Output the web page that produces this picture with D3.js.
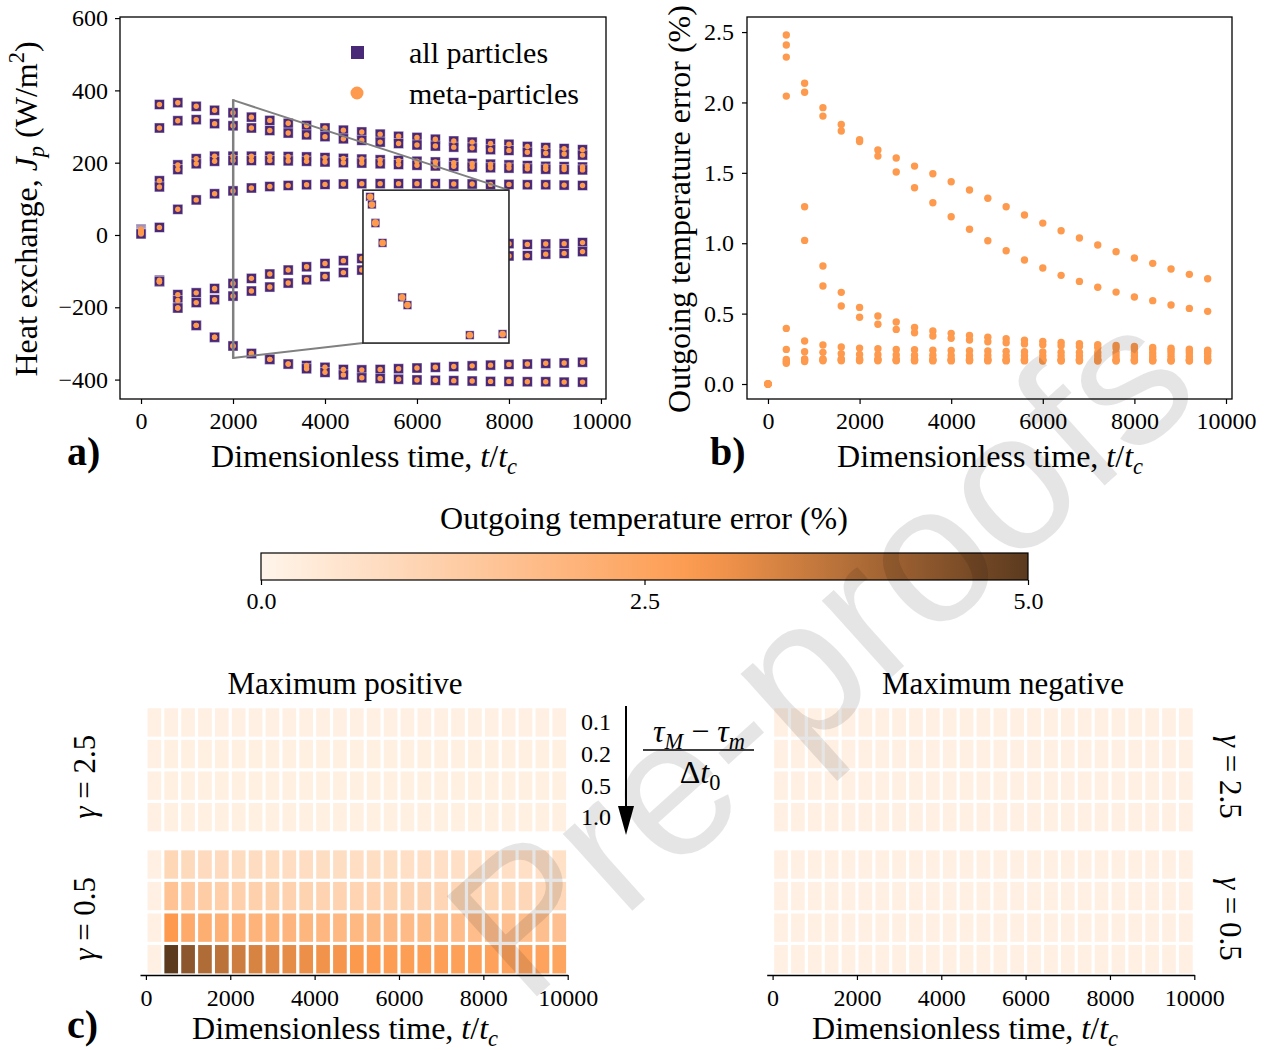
<!DOCTYPE html>
<html>
<head>
<meta charset="utf-8">
<script src="https://cdn.jsdelivr.net/npm/d3@7"></script>
<style>
  body { margin: 0; background: #fff; }
  text { font-family: "Liberation Serif", serif; fill: #000; }
</style>
</head>
<body>
<svg id="fig" width="1273" height="1050"></svg>
<script>
// ---- data ----
var times = [0, 400, 800, 1200, 1600, 2000, 2400, 2800, 3200, 3600, 4000, 4400, 4800,
             5200, 5600, 6000, 6400, 6800, 7200, 7600, 8000, 8400, 8800, 9200, 9600];

// a) heat exchange J_p (W/m2) of each particle
var jp1 = [16, 361, 366, 356, 345, 338, 326, 317, 309, 303, 296, 290, 285, 279, 273, 270, 265, 260, 257, 253, 251, 245, 242, 239, 236];
var jp2 = [14, 296, 316, 319, 308, 302, 296, 289, 282, 277, 272, 266, 262, 257, 253, 249, 246, 243, 241, 236, 234, 229, 226, 224, 221];
var jp3 = [12, 150, 194, 211, 218, 218, 218, 218, 217, 216, 214, 212, 210, 208, 206, 204, 202, 200, 198, 196, 194, 192, 190, 189, 188];
var jp4 = [10, 133, 181, 197, 204, 206, 206, 206, 205, 204, 202, 200, 199, 197, 195, 193, 191, 190, 188, 186, 185, 183, 182, 181, 180];
var jp5 = [8, 21, 71, 97, 114, 122, 130, 134, 137, 139, 140, 141, 142, 142, 142, 142, 142, 141, 141, 140, 140, 139, 139, 138, 137];
var jp6 = [6, -125, -165, -160, -148, -134, -120, -108, -97, -88, -79, -71, -65, -59, -53, -48, -43, -38, -33, -28, -24, -26, -25, -24, -21];
var jp7 = [5, -130, -181, -187, -179, -169, -155, -144, -133, -124, -115, -104, -97, -92, -87, -82, -77, -72, -67, -62, -58, -57, -53, -51, -46];
var jp8 = [4, -128, -202, -250, -283, -307, -328, -344, -357, -361, -366, -372, -373, -372, -370, -368, -366, -364, -362, -360, -358, -357, -355, -354, -352];
var jp9 = [3, -128, -202, -250, -283, -307, -328, -344, -357, -370, -380, -387, -395, -397, -399, -401, -402, -403, -404, -405, -405, -406, -406, -407, -407];
var allParticles = [jp1, jp2, jp3, jp4, jp5, jp6, jp7, jp8, jp9];
var metaParticles = [jp1, jp2, jp3, jp4, jp5, jp6, jp7, jp8, jp9];

// inset: zoom around t = 2000
var insetT = [1999.1, 1999.15, 1999.25, 1999.25, 1999.45, 2000.0, 2000.15, 2001.9, 2002.82];
var insetJ = [342, 306, 221, 219, 127, -127, -163, -303, -298];

// b) outgoing temperature error (%)
var err1 = [0, 2.479, 2.136, 1.963, 1.844, 1.735, 1.662, 1.605, 1.548, 1.494, 1.437, 1.378, 1.319, 1.259, 1.200, 1.143, 1.089, 1.037, 0.987, 0.940, 0.895, 0.857, 0.817, 0.779, 0.748];
var err2 = [0, 2.408, 2.072, 1.903, 1.797, 1.722, 1.619, 1.506, 1.394, 1.288, 1.188, 1.099, 1.018, 0.947, 0.881, 0.824, 0.772, 0.729, 0.687, 0.653, 0.618, 0.592, 0.561, 0.537, 0.516];
var err3 = [0, 2.322, 1.259, 0.838, 0.651, 0.544, 0.483, 0.440, 0.402, 0.376, 0.360, 0.345, 0.333, 0.322, 0.312, 0.303, 0.295, 0.287, 0.280, 0.273, 0.266, 0.260, 0.254, 0.248, 0.241];
var err4 = [0, 2.045, 1.020, 0.696, 0.554, 0.474, 0.424, 0.388, 0.364, 0.341, 0.325, 0.313, 0.300, 0.293, 0.285, 0.278, 0.272, 0.266, 0.260, 0.255, 0.250, 0.245, 0.240, 0.236, 0.232];
var err5 = [0, 0.395, 0.305, 0.277, 0.263, 0.255, 0.250, 0.246, 0.243, 0.240, 0.238, 0.236, 0.234, 0.232, 0.230, 0.228, 0.226, 0.225, 0.224, 0.223, 0.222, 0.221, 0.220, 0.220, 0.219];
var err6 = [0, 0.246, 0.229, 0.225, 0.215, 0.210, 0.208, 0.206, 0.205, 0.204, 0.203, 0.202, 0.202, 0.201, 0.201, 0.200, 0.200, 0.200, 0.199, 0.199, 0.199, 0.198, 0.198, 0.198, 0.197];
var err7 = [0, 0.175, 0.178, 0.178, 0.178, 0.177, 0.177, 0.177, 0.176, 0.176, 0.176, 0.176, 0.176, 0.175, 0.175, 0.175, 0.175, 0.175, 0.175, 0.174, 0.174, 0.174, 0.174, 0.174, 0.174];
var err8 = [0, 0.160, 0.170, 0.170, 0.170, 0.170, 0.170, 0.169, 0.169, 0.169, 0.169, 0.169, 0.169, 0.168, 0.168, 0.168, 0.168, 0.168, 0.168, 0.168, 0.168, 0.168, 0.167, 0.167, 0.167];
var err9 = [0, 0.147, 0.160, 0.165, 0.165, 0.165, 0.165, 0.165, 0.164, 0.164, 0.164, 0.164, 0.164, 0.164, 0.164, 0.163, 0.163, 0.163, 0.163, 0.163, 0.163, 0.163, 0.163, 0.163, 0.163];
var errSeries = [err1, err2, err3, err4, err5, err6, err7, err8, err9];

// c) error maps, rows = (tau_M - tau_m)/dt0
var tauLabels = ["0.1", "0.2", "0.5", "1.0"];
var gammaLabels = ["\u03b3 = 2.5", "\u03b3 = 0.5"];
var posG25 = [
  [0.15,0.15,0.15,0.15,0.15,0.15,0.15,0.15,0.15,0.15,0.15,0.15,0.15,0.15,0.15,0.15,0.15,0.15,0.15,0.15,0.15,0.15,0.15,0.15,0.15],
  [0.15,0.16,0.16,0.16,0.16,0.16,0.16,0.16,0.16,0.16,0.16,0.16,0.16,0.16,0.16,0.16,0.16,0.16,0.16,0.16,0.16,0.16,0.16,0.16,0.16],
  [0.15,0.16,0.16,0.16,0.16,0.16,0.16,0.16,0.16,0.16,0.16,0.16,0.16,0.16,0.16,0.16,0.16,0.16,0.16,0.16,0.16,0.16,0.16,0.16,0.16],
  [0.15,0.17,0.17,0.17,0.17,0.17,0.17,0.17,0.17,0.17,0.17,0.17,0.17,0.17,0.17,0.17,0.17,0.17,0.17,0.17,0.17,0.17,0.17,0.17,0.17]
];
var posG05 = [
  [0.15,0.95,0.85,0.82,0.80,0.78,0.77,0.76,0.75,0.74,0.73,0.72,0.71,0.70,0.70,0.69,0.68,0.68,0.67,0.67,0.66,0.66,0.65,0.65,0.64],
  [0.15,1.60,1.30,1.25,1.20,1.17,1.14,1.12,1.10,1.08,1.06,1.05,1.04,1.02,1.01,1.00,0.99,0.98,0.97,0.96,0.95,0.94,0.93,0.92,0.91],
  [0.15,2.85,2.35,2.20,2.14,2.10,2.06,2.02,1.99,1.96,1.93,1.90,1.88,1.86,1.84,1.82,1.80,1.78,1.76,1.75,1.73,1.71,1.70,1.68,1.66],
  [0.15,5.00,4.35,3.87,3.73,3.50,3.35,3.25,3.17,3.09,3.00,2.95,2.88,2.80,2.76,2.73,2.70,2.68,2.66,2.64,2.62,2.60,2.58,2.56,2.55]
];
var negG25 = [
  [0.15,0.15,0.15,0.15,0.15,0.15,0.15,0.15,0.15,0.15,0.15,0.15,0.15,0.15,0.15,0.15,0.15,0.15,0.15,0.15,0.15,0.15,0.15,0.15,0.15],
  [0.15,0.15,0.15,0.15,0.15,0.15,0.15,0.15,0.15,0.15,0.15,0.15,0.15,0.15,0.15,0.15,0.15,0.15,0.15,0.15,0.15,0.15,0.15,0.15,0.15],
  [0.15,0.15,0.15,0.15,0.15,0.15,0.15,0.15,0.15,0.15,0.15,0.15,0.15,0.15,0.15,0.15,0.15,0.15,0.15,0.15,0.15,0.15,0.15,0.15,0.15],
  [0.15,0.15,0.15,0.15,0.15,0.15,0.15,0.15,0.15,0.15,0.15,0.15,0.15,0.15,0.15,0.15,0.15,0.15,0.15,0.15,0.15,0.15,0.15,0.15,0.15]
];
var negG05 = [
  [0.15,0.15,0.15,0.15,0.15,0.15,0.15,0.15,0.15,0.15,0.15,0.15,0.15,0.15,0.15,0.15,0.15,0.15,0.15,0.15,0.15,0.15,0.15,0.15,0.15],
  [0.15,0.15,0.15,0.15,0.15,0.15,0.15,0.15,0.15,0.15,0.15,0.15,0.15,0.15,0.15,0.15,0.15,0.15,0.15,0.15,0.15,0.15,0.15,0.15,0.15],
  [0.15,0.15,0.15,0.15,0.15,0.15,0.15,0.15,0.15,0.15,0.15,0.15,0.15,0.15,0.15,0.15,0.15,0.15,0.15,0.15,0.15,0.15,0.15,0.15,0.15],
  [0.15,0.15,0.15,0.15,0.15,0.15,0.15,0.15,0.15,0.15,0.15,0.15,0.15,0.15,0.15,0.15,0.15,0.15,0.15,0.15,0.15,0.15,0.15,0.15,0.15]
];
var timeTicks = [0, 2000, 4000, 6000, 8000, 10000];
var jTicks = [-400, -200, 0, 200, 400, 600];
var errTicks = [0, 0.5, 1.0, 1.5, 2.0, 2.5];
var cbarTicks = [0, 2.5, 5.0];

var purple = "#4a2878", orange = "#fd9a4e";
var cmap = d3.scaleLinear().domain([0, 2.85, 5]).range(["#fff5eb", "#fd9a4e", "#5b3a1e"]);

var svg = d3.select("#fig");

// writes text made of plain / italic / sub / sup pieces
function mathText(sel, parts, size) {
  var cur = 0;
  parts.forEach(function(p) {
    var st = p[1] || "";
    var ts = sel.append("tspan").text(p[0]);
    var shift = 0, fs = size;
    if (st.indexOf("sub") >= 0) { shift = size * 0.22; fs = size * 0.7; }
    if (st.indexOf("sup") >= 0) { shift = -size * 0.4; fs = size * 0.7; }
    if (st.charAt(0) == "i") ts.style("font-style", "italic");
    ts.attr("font-size", fs);
    if (shift != cur) ts.attr("dy", shift - cur);
    cur = shift;
  });
}

function styleAxis(g, size) {
  g.attr("font-family", "Liberation Serif").attr("font-size", size);
  g.selectAll(".tick line").attr("stroke", "#000").attr("stroke-width", 1.2);
  g.selectAll(".tick text").attr("fill", "#000");
}

var timeLabel = [["Dimensionless time, "], ["t", "i"], ["/"], ["t", "i"], ["c", "isub"]];
var LBL = 32;

// ================= panel a =================
var ax = d3.scaleLinear().domain([-457, 10110]).range([120, 606]);
var ay = d3.scaleLinear().domain([-453.7, 603]).range([399, 17]);
var ga = svg.append("g");

ga.append("g").attr("transform", "translate(0,399)")
  .call(d3.axisBottom(ax).tickValues(timeTicks).tickSize(5).tickPadding(8).tickFormat(d3.format("d")))
  .call(function(g) { g.select(".domain").remove(); styleAxis(g, 24); });
ga.append("g").attr("transform", "translate(120,0)")
  .call(d3.axisLeft(ay).tickValues(jTicks).tickSize(5).tickPadding(7).tickFormat(d3.format("d")))
  .call(function(g) { g.select(".domain").remove(); styleAxis(g, 24); });

allParticles.forEach(function(s) {
  ga.selectAll(null).data(s).enter().append("rect")
    .attr("x", function(d, i) { return ax(times[i]) - 5; })
    .attr("y", function(d) { return ay(d) - 5; })
    .attr("width", 10).attr("height", 10)
    .attr("fill", purple).attr("stroke", "#fff").attr("stroke-opacity", 0.55).attr("stroke-width", 0.8);
});
metaParticles.forEach(function(s) {
  ga.selectAll(null).data(s).enter().append("circle")
    .attr("cx", function(d, i) { return ax(times[i]); })
    .attr("cy", function(d) { return ay(d); })
    .attr("r", 2.7).attr("fill", orange);
});

// inset box (in data coords of panel a)
var ix0 = ax(4826), ix1 = ax(8000), iy0 = ay(124), iy1 = ay(-299);
var insX = d3.scaleLinear().domain([1998.9, 2003.0]).range([ix0, ix1]);
var insY = d3.scaleLinear().domain([-340, 373]).range([iy1, iy0]);

// zoom marker and connectors
ga.append("rect")
  .attr("x", ax(1998.9)).attr("y", ay(373))
  .attr("width", Math.max(ax(2003) - ax(1998.9), 0.5)).attr("height", ay(-340) - ay(373))
  .attr("fill", "none").attr("stroke", "#808080").attr("stroke-width", 2);
ga.append("line").attr("x1", ax(2003)).attr("y1", ay(373)).attr("x2", ix1).attr("y2", iy0)
  .attr("stroke", "#808080").attr("stroke-width", 2);
ga.append("line").attr("x1", ax(1998.9)).attr("y1", ay(-340)).attr("x2", ix0).attr("y2", iy1)
  .attr("stroke", "#808080").attr("stroke-width", 2);

ga.append("rect").attr("x", ix0).attr("y", iy0).attr("width", ix1 - ix0).attr("height", iy1 - iy0)
  .attr("fill", "#fff");
ga.selectAll(null).data(insetJ).enter().append("rect")
  .attr("x", function(d, i) { return insX(insetT[i]) - 4.3; })
  .attr("y", function(d) { return insY(d) - 4.3; })
  .attr("width", 8.6).attr("height", 8.6)
  .attr("fill", purple).attr("stroke", "#fff").attr("stroke-opacity", 0.55).attr("stroke-width", 0.8);
ga.selectAll(null).data(insetJ).enter().append("circle")
  .attr("cx", function(d, i) { return insX(insetT[i]); })
  .attr("cy", function(d) { return insY(d); })
  .attr("r", 3.4).attr("fill", orange);
ga.append("rect").attr("x", ix0).attr("y", iy0).attr("width", ix1 - ix0).attr("height", iy1 - iy0)
  .attr("fill", "none").attr("stroke", "#262626").attr("stroke-width", 1.6);

ga.append("rect").attr("x", 120).attr("y", 17).attr("width", 486).attr("height", 382)
  .attr("fill", "none").attr("stroke", "#000").attr("stroke-width", 1.3);

// legend
ga.append("rect").attr("x", 351).attr("y", 46).attr("width", 13).attr("height", 13).attr("fill", purple);
ga.append("circle").attr("cx", 357).attr("cy", 93).attr("r", 6.5).attr("fill", orange);
ga.append("text").attr("x", 409).attr("y", 63).attr("font-size", 30).text("all particles");
ga.append("text").attr("x", 409).attr("y", 104).attr("font-size", 30).text("meta-particles");

mathText(ga.append("text").attr("x", 364).attr("y", 467).attr("text-anchor", "middle").attr("font-size", LBL), timeLabel, LBL);
mathText(ga.append("text").attr("transform", "translate(37,209) rotate(-90)").attr("text-anchor", "middle").attr("font-size", LBL),
  [["Heat exchange, "], ["J", "i"], ["p", "isub"], [" (W/m"], ["2", "sup"], [")"]], LBL);
ga.append("text").attr("x", 67).attr("y", 465).attr("font-size", 40).attr("font-weight", "bold").text("a)");

// ================= panel b =================
var bx = d3.scaleLinear().domain([-458, 10131]).range([747, 1232]);
var by = d3.scaleLinear().domain([-0.1065, 2.607]).range([399, 17]);
var gb = svg.append("g");
gb.append("g").attr("transform", "translate(0,399)")
  .call(d3.axisBottom(bx).tickValues(timeTicks).tickSize(5).tickPadding(8).tickFormat(d3.format("d")))
  .call(function(g) { g.select(".domain").remove(); styleAxis(g, 24); });
gb.append("g").attr("transform", "translate(747,0)")
  .call(d3.axisLeft(by).tickValues(errTicks).tickSize(5).tickPadding(8).tickFormat(d3.format(".1f")))
  .call(function(g) { g.select(".domain").remove(); styleAxis(g, 24); });
errSeries.forEach(function(s) {
  gb.selectAll(null).data(s).enter().append("circle")
    .attr("cx", function(d, i) { return bx(times[i]); })
    .attr("cy", function(d) { return by(d); })
    .attr("r", 3.7).attr("fill", orange);
});
gb.append("rect").attr("x", 747).attr("y", 17).attr("width", 485).attr("height", 382)
  .attr("fill", "none").attr("stroke", "#000").attr("stroke-width", 1.3);
mathText(gb.append("text").attr("x", 990).attr("y", 467).attr("text-anchor", "middle").attr("font-size", LBL), timeLabel, LBL);
gb.append("text").attr("transform", "translate(690,209) rotate(-90)").attr("text-anchor", "middle")
  .attr("font-size", LBL).text("Outgoing temperature error (%)");
gb.append("text").attr("x", 710).attr("y", 465).attr("font-size", 40).attr("font-weight", "bold").text("b)");

// ================= colorbar =================
var cx = d3.scaleLinear().domain([0, 5]).range([261, 1028]);
var grad = svg.append("defs").append("linearGradient").attr("id", "cb");
d3.range(0, 1.0001, 0.05).forEach(function(f) {
  grad.append("stop").attr("offset", f).attr("stop-color", cmap(f * 5));
});
svg.append("rect").attr("x", 261).attr("y", 553).attr("width", 767).attr("height", 27)
  .attr("fill", "url(#cb)").attr("stroke", "#000").attr("stroke-width", 1.2);
svg.append("g").attr("transform", "translate(0,580)")
  .call(d3.axisBottom(cx).tickValues(cbarTicks).tickSize(5).tickPadding(7).tickFormat(d3.format(".1f")))
  .call(function(g) { g.select(".domain").remove(); styleAxis(g, 24); });
svg.append("text").attr("x", 644).attr("y", 529).attr("text-anchor", "middle").attr("font-size", LBL)
  .text("Outgoing temperature error (%)");

// ================= panel c =================
var cy = d3.scaleLinear().domain([0, 8.5]).range([706.7, 975]);
var step = times[1] - times[0];

function heatPanel(x0, x1, groups) {
  var sx = d3.scaleLinear().domain([-140, 10000]).range([x0, x1]);
  var g = svg.append("g");
  groups.forEach(function(rows, gi) {
    rows.forEach(function(row, ri) {
      var slot = gi * 4.5 + ri;
      g.selectAll(null).data(row).enter().append("rect")
        .attr("x", function(d, i) { return sx(times[i]) + 1.6; })
        .attr("y", cy(slot) + 1.6)
        .attr("width", function(d, i) { return sx(times[i] + step) - sx(times[i]) - 3.2; })
        .attr("height", cy(slot + 1) - cy(slot) - 3.2)
        .attr("fill", function(d) { return cmap(d); });
    });
  });
  g.append("g").attr("transform", "translate(0,975)")
    .call(d3.axisBottom(sx).tickValues(timeTicks).tickSize(5).tickSizeOuter(0).tickPadding(9).tickFormat(d3.format("d")))
    .call(function(a) {
      a.select(".domain").attr("stroke", "#000").attr("stroke-width", 1.3);
      styleAxis(a, 24);
    });
  return g;
}
heatPanel(140, 567.7, [posG25, posG05]);
heatPanel(766.7, 1194.3, [negG25, negG05]);

svg.append("text").attr("x", 345).attr("y", 694).attr("text-anchor", "middle").attr("font-size", 31).text("Maximum positive");
svg.append("text").attr("x", 1003).attr("y", 694).attr("text-anchor", "middle").attr("font-size", 31).text("Maximum negative");
mathText(svg.append("text").attr("x", 345).attr("y", 1039).attr("text-anchor", "middle").attr("font-size", LBL), timeLabel, LBL);
mathText(svg.append("text").attr("x", 965).attr("y", 1039).attr("text-anchor", "middle").attr("font-size", LBL), timeLabel, LBL);
svg.append("text").attr("x", 67).attr("y", 1038).attr("font-size", 40).attr("font-weight", "bold").text("c)");

gammaLabels.forEach(function(lbl, gi) {
  var mid = (cy(gi * 4.5) + cy(gi * 4.5 + 4)) / 2 + 7;
  var parts = [[lbl.charAt(0), "i"], [lbl.slice(1)]];
  mathText(svg.append("text").attr("transform", "translate(95," + mid + ") rotate(-90)")
    .attr("text-anchor", "middle").attr("font-size", 31), parts, 31);
  mathText(svg.append("text").attr("transform", "translate(1220," + mid + ") rotate(90)")
    .attr("text-anchor", "middle").attr("font-size", 31), parts, 31);
});
tauLabels.forEach(function(lbl, ri) {
  svg.append("text").attr("x", 596).attr("y", (cy(ri) + cy(ri + 1)) / 2 + 8)
    .attr("text-anchor", "middle").attr("font-size", 24).text(lbl);
});
// arrow and fraction
svg.append("line").attr("x1", 626).attr("y1", 706).attr("x2", 626).attr("y2", 810)
  .attr("stroke", "#000").attr("stroke-width", 2);
svg.append("path").attr("d", "M618,806 L634,806 L626,835 Z").attr("fill", "#000");
mathText(svg.append("text").attr("x", 699).attr("y", 742).attr("text-anchor", "middle").attr("font-size", 32),
  [["\u03c4", "i"], ["M", "isub"], [" \u2212 "], ["\u03c4", "i"], ["m", "isub"]], 32);
svg.append("line").attr("x1", 643).attr("x2", 754).attr("y1", 750).attr("y2", 750).attr("stroke", "#000").attr("stroke-width", 1.5);
mathText(svg.append("text").attr("x", 700).attr("y", 783).attr("text-anchor", "middle").attr("font-size", 32),
  [["\u0394"], ["t", "i"], ["0", "sub"]], 32);

// watermark
svg.append("text").attr("transform", "translate(1205,395) rotate(-42)")
  .attr("text-anchor", "end").style("font-family", "Liberation Sans").attr("font-size", 196)
  .attr("fill", "#000").attr("fill-opacity", 0.1).attr("pointer-events", "none")
  .text("Pre-proofs");
</script>
</body>
</html>
